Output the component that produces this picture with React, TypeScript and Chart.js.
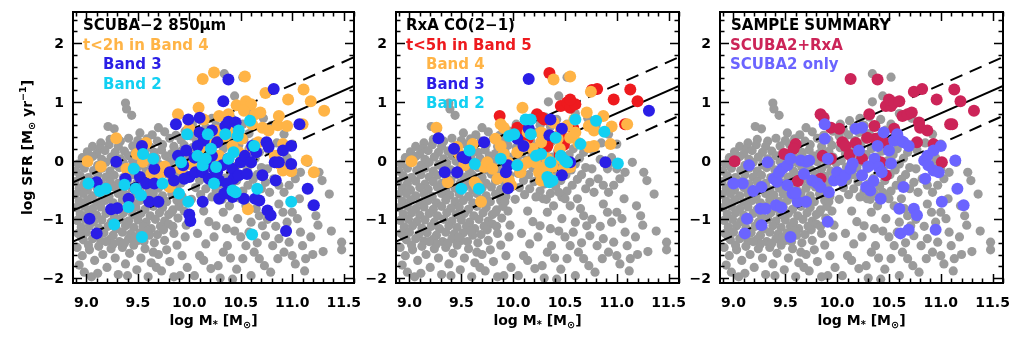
import React, { useEffect, useRef } from "react";
import { Chart, registerables } from "chart.js";
Chart.register(...registerables);

type P = [number, number];

const xTicks = [9.0, 9.5, 10.0, 10.5, 11.0, 11.5];
const yTicks = [-2, -1, 0, 1, 2];
const xRange = [8.87, 11.6];
const yRange = [-2.085, 2.53];

const fitX = [8.87, 11.6];
const fitMain = [-0.85, 1.27];
const fitUpper = [-0.37, 1.76];
const fitLower = [-1.38, 0.76];

const backgroundGalaxies: P[] = [
  [9.38,0.98],[9.39,0.88],[9.44,0.77],[9.27,0.54],[9.52,0.47],[9.64,0.44],[9.76,0.49],[9.87,0.43],[9.96,0.50],[9.70,0.56],[9.21,0.58],
  [9.23,0.36],[9.33,0.33],[9.41,0.38],[9.50,0.34],[9.59,0.37],[9.69,0.33],[9.81,0.38],[9.92,0.35],[9.14,0.30],
  [9.06,0.24],[9.13,0.20],[9.22,0.27],[9.31,0.24],[9.45,0.25],[9.54,0.28],[9.62,0.23],[9.74,0.27],[9.85,0.24],[9.95,0.26],
  [9.01,0.15],[9.10,0.11],[9.18,0.17],[9.28,0.14],[9.37,0.16],[9.47,0.12],[9.57,0.17],[9.66,0.14],[9.73,0.18],[9.83,0.12],[9.92,0.16],
  [8.96,0.05],[9.06,0.07],[9.15,0.02],[9.24,0.06],[9.33,0.03],[9.41,0.08],[9.50,0.02],[9.59,0.06],[9.68,0.04],[9.77,0.08],[9.86,0.03],[9.96,0.06],
  [8.92,-0.06],[9.02,-0.03],[9.11,-0.08],[9.19,-0.03],[9.28,-0.07],[9.36,-0.04],[9.45,-0.01],[9.54,-0.08],[9.62,-0.04],[9.71,-0.07],[9.81,-0.02],[9.90,-0.06],[9.99,-0.04],
  [8.90,-0.18],[8.98,-0.13],[9.07,-0.17],[9.15,-0.13],[9.23,-0.18],[9.32,-0.12],[9.40,-0.16],[9.49,-0.13],[9.58,-0.18],[9.66,-0.12],[9.75,-0.16],[9.85,-0.14],[9.94,-0.18],
  [8.94,-0.26],[9.02,-0.29],[9.11,-0.24],[9.19,-0.28],[9.27,-0.25],[9.36,-0.29],[9.45,-0.24],[9.53,-0.28],[9.61,-0.25],[9.70,-0.29],[9.79,-0.23],[9.88,-0.27],[9.97,-0.25],
  [8.89,-0.36],[8.98,-0.39],[9.06,-0.35],[9.15,-0.40],[9.23,-0.36],[9.31,-0.39],[9.40,-0.34],[9.49,-0.38],[9.57,-0.40],[9.66,-0.35],[9.74,-0.39],[9.83,-0.35],[9.92,-0.38],
  [8.93,-0.47],[9.01,-0.50],[9.10,-0.46],[9.18,-0.49],[9.27,-0.45],[9.35,-0.50],[9.44,-0.47],[9.53,-0.45],[9.61,-0.50],[9.70,-0.47],[9.79,-0.45],[9.88,-0.49],
  [8.89,-0.58],[8.97,-0.56],[9.06,-0.60],[9.14,-0.57],[9.22,-0.61],[9.31,-0.56],[9.39,-0.59],[9.48,-0.57],[9.57,-0.61],[9.65,-0.56],[9.74,-0.60],[9.83,-0.57],[9.93,-0.61],
  [8.93,-0.69],[9.01,-0.67],[9.10,-0.71],[9.18,-0.68],[9.26,-0.72],[9.35,-0.67],[9.44,-0.70],[9.52,-0.68],[9.61,-0.72],[9.69,-0.67],[9.78,-0.70],[9.88,-0.68],
  [8.90,-0.80],[8.98,-0.78],[9.06,-0.82],[9.14,-0.79],[9.23,-0.83],[9.31,-0.78],[9.40,-0.81],[9.48,-0.79],[9.57,-0.83],[9.65,-0.78],[9.74,-0.80],[9.84,-0.84],
  [8.94,-0.91],[9.02,-0.89],[9.10,-0.93],[9.19,-0.90],[9.27,-0.94],[9.36,-0.89],[9.45,-0.92],[9.53,-0.90],[9.62,-0.94],[9.71,-0.89],[9.80,-0.92],
  [8.91,-1.02],[8.99,-1.00],[9.07,-1.04],[9.15,-1.01],[9.24,-1.05],[9.33,-1.00],[9.41,-1.03],[9.50,-1.01],[9.58,-1.05],[9.67,-1.00],[9.76,-1.03],
  [8.95,-1.13],[9.03,-1.11],[9.12,-1.15],[9.21,-1.12],[9.29,-1.16],[9.38,-1.11],[9.46,-1.14],[9.55,-1.12],[9.63,-1.16],[9.72,-1.12],
  [8.92,-1.24],[9.00,-1.22],[9.09,-1.26],[9.17,-1.23],[9.26,-1.27],[9.35,-1.22],[9.43,-1.25],[9.52,-1.23],[9.61,-1.27],
  [8.97,-1.35],[9.06,-1.33],[9.14,-1.37],[9.23,-1.34],[9.32,-1.38],[9.41,-1.33],[9.50,-1.36],
  [10.03,0.62],[10.12,0.68],[10.22,0.72],[10.31,0.74],[10.42,0.70],[10.52,0.62],
  [10.06,0.52],[10.16,0.56],[10.26,0.60],[10.36,0.58],[10.47,0.52],[10.58,0.46],
  [10.02,0.42],[10.11,0.44],[10.21,0.48],[10.31,0.46],[10.41,0.42],[10.53,0.36],[10.63,0.30],
  [10.07,0.32],[10.17,0.34],[10.27,0.36],[10.37,0.32],[10.48,0.26],[10.58,0.20],[10.68,0.14],
  [10.03,0.22],[10.13,0.22],[10.23,0.24],[10.33,0.20],[10.43,0.16],[10.54,0.10],[10.64,0.04],
  [10.08,0.11],[10.18,0.12],[10.28,0.10],[10.38,0.06],[10.49,0.00],[10.60,-0.06],[10.70,-0.12],
  [10.04,0.00],[10.14,0.01],[10.24,-0.02],[10.34,-0.06],[10.45,-0.10],[10.56,-0.16],[10.66,-0.24],
  [10.09,-0.11],[10.19,-0.12],[10.29,-0.14],[10.40,-0.18],[10.51,-0.24],[10.62,-0.32],
  [10.05,-0.22],[10.15,-0.24],[10.25,-0.26],[10.35,-0.30],[10.46,-0.34],[10.57,-0.42],
  [10.10,-0.34],[10.20,-0.36],[10.30,-0.40],[10.41,-0.44],[10.52,-0.52],
  [10.06,-0.46],[10.16,-0.48],[10.26,-0.52],[10.36,-0.56],[10.47,-0.62],
  [10.11,-0.58],[10.22,-0.62],[10.32,-0.66],[10.02,-0.66],
  [8.91,-1.48],[8.96,-1.62],[8.93,-1.78],[8.98,-1.90],[9.03,-1.52],[9.08,-1.70],[9.05,-1.98],[9.12,-1.46],[9.16,-1.60],[9.20,-1.82],
  [9.24,-1.50],[9.28,-1.66],[9.31,-1.94],[9.35,-1.48],[9.38,-1.76],[9.42,-1.58],[9.46,-1.44],[9.49,-1.86],[9.53,-1.66],[9.57,-1.50],
  [9.60,-1.98],[9.63,-1.74],[9.66,-1.40],[9.70,-1.60],[9.73,-1.88],[9.76,-1.36],[9.78,-1.52],[9.81,-1.72],[9.85,-1.24],[9.88,-1.44],
  [9.91,-1.96],[9.93,-1.62],[9.96,-1.30],[9.98,-1.82],[9.80,-1.08],[9.89,-0.98],[9.95,-0.86],[9.97,-1.10],[9.85,-1.98],[9.11,-1.92],
  [9.40,-1.96],[9.68,-1.82],[9.56,-1.38],[9.26,-1.42],[9.69,-1.26],[9.90,-0.78],[9.84,-1.12],
  [10.33,-0.88],[10.26,-1.11],[10.36,-1.16],[10.47,-0.99],[10.55,-0.77],[10.62,-0.65],[10.65,-0.82],[10.68,-0.94],[10.71,-1.11],[10.74,-1.28],
  [10.58,-1.22],[10.55,-1.45],[10.63,-1.56],[10.68,-1.67],[10.73,-1.79],[10.52,-1.67],[10.46,-1.85],[10.42,-2.02],[10.33,-1.56],[10.28,-1.79],
  [10.37,-1.45],[10.81,-1.45],[10.87,-1.33],[10.92,-1.56],[10.97,-1.39],[11.00,-1.62],[11.03,-1.76],[10.86,-1.67],[10.79,-1.90],[10.95,-1.05],
  [10.91,-0.88],[10.87,-0.74],[11.00,-0.88],[11.05,-0.99],[11.08,-1.22],[11.10,-1.45],[11.13,-1.67],[10.87,-0.42],[10.82,-0.31],[10.92,-0.54],
  [10.97,-0.42],[11.03,-0.31],[11.08,-0.20],[11.15,-0.03],[11.26,-0.20],[11.29,-0.34],[11.36,-0.57],[11.19,-0.77],[11.23,-0.94],[11.07,-0.65],
  [11.48,-1.39],[11.48,-1.52],[10.78,-0.54],[10.74,-0.37],[10.70,-0.48],[10.29,-0.65],[10.39,-0.77],[10.50,-0.65],[10.44,-0.54],[11.00,-0.14],
  [10.91,-0.14],[10.95,-0.03],[10.14,-0.86],[10.19,-1.04],[10.08,-1.24],[10.16,-1.42],[10.10,-1.62],[10.21,-1.84],[10.05,-1.96],[10.24,-1.30],
  [10.30,-2.00],[10.14,-1.70],[10.60,-1.96],[10.66,-1.40],[10.84,-1.12],[10.76,-1.00],[10.60,-1.05],[10.50,-1.30],[10.44,-1.20],[10.40,-1.66],
  [10.34,1.48],[10.52,1.42],[10.34,1.00],[10.44,1.10],[10.60,0.80],[10.72,0.72],[10.80,0.60],[10.92,0.45],[10.85,0.30],[11.00,0.28],
  [10.77,0.18],[10.95,0.05],[10.84,0.02],[10.76,-0.14],[11.18,-1.30],[11.25,-1.10],[11.30,-1.55],[11.38,-1.20],[11.20,-1.60],[11.12,-1.88],
  [8.95,-1.30],[9.02,-1.44],[9.19,-1.38],[9.37,-1.41],[9.47,-1.30],[9.59,-1.20],[9.75,-1.18],[9.83,-0.88],[9.92,-0.70],[9.65,-1.56],
];

const scubaBand4: P[] = [
  [9.01,-0.01],[9.14,-0.10],[9.29,0.38],[9.49,0.11],[9.58,0.30],[9.39,-0.14],[9.63,-0.23],[9.68,-0.23],[9.73,-0.20],[9.81,-0.45],
  [9.84,-0.35],[9.92,-0.14],[9.89,0.79],[10.0,0.54],[10.09,0.90],[10.13,1.39],[10.24,1.50],[10.29,0.76],[10.38,0.79],[10.26,0.51],
  [10.46,0.94],[10.54,1.43],[10.55,1.01],[10.60,0.96],[10.53,0.85],[10.64,0.79],[10.69,0.82],[10.61,0.62],[10.71,0.56],[10.74,1.15],
  [10.77,0.51],[10.86,0.60],[10.87,0.76],[10.95,0.59],[10.96,1.04],[10.91,0.28],[10.83,0.08],[10.88,-0.06],[10.91,-0.17],[10.99,-0.18],
  [11.11,1.21],[11.18,1.01],[11.31,0.85],[11.10,0.62],[11.14,0.0],[11.21,-0.20],[10.57,-0.83],[10.35,0.42],[10.42,0.25],[10.51,0.37],
  [10.14,0.70],[10.18,0.37],[10.10,0.20],[10.29,0.08],[10.67,0.31],[10.61,0.20],[10.48,0.14],[10.03,-0.08],[10.22,0.25],[10.38,0.51],
  [9.55,-0.02],[9.76,-0.10],
];
const scubaBand3: P[] = [
  [9.29,-0.02],[9.10,-0.37],[9.03,-0.99],[9.10,-1.24],[9.24,-0.83],[9.30,-0.81],[9.38,-0.31],[9.41,-0.65],[9.48,-0.47],[9.52,-0.28],
  [9.58,-0.39],[9.54,0.25],[9.66,-0.14],[9.66,-0.39],[9.61,-0.70],[9.70,-0.70],[9.85,-0.34],[9.81,-0.20],[9.87,0.62],[9.89,0.08],
  [9.97,0.17],[9.99,0.70],[10.10,0.73],[10.0,-0.28],[9.95,-0.31],[10.06,-0.20],[9.94,-0.08],[10.0,-0.92],[10.01,-1.03],[10.10,0.48],
  [10.14,0.34],[10.08,0.25],[10.22,0.51],[10.27,0.31],[10.35,0.59],[10.22,0.08],[10.16,-0.03],[10.13,-0.20],[10.19,-0.31],[10.27,-0.20],
  [10.29,-0.34],[10.32,-0.08],[10.38,0.03],[10.42,-0.14],[10.43,-0.31],[10.37,-0.39],[10.50,-0.03],[10.48,-0.25],[10.56,-0.23],[10.54,0.08],
  [10.60,-0.03],[10.61,0.25],[10.65,0.14],[10.29,-0.65],[10.42,-0.62],[10.34,-0.56],[10.13,-0.70],[10.53,-0.65],[10.64,-0.65],[10.68,-0.68],
  [10.71,-0.25],[10.76,-0.85],[10.79,-0.93],[10.84,-0.34],[10.83,-0.03],[10.87,-0.03],[10.75,0.31],[10.77,0.23],[10.91,0.17],[10.99,0.25],
  [10.99,-0.06],[10.94,-1.20],[11.07,0.62],[11.15,-0.48],[11.21,-0.76],[10.82,1.22],[10.38,1.38],[10.33,1.01],[10.38,0.66],[10.45,0.65],
  [10.24,-0.14],[10.05,0.05],
];
const scubaBand2: P[] = [
  [9.02,-0.39],[9.13,-0.52],[9.19,-0.48],[9.27,-1.09],[9.41,-0.79],[9.54,-1.30],[9.46,-0.14],[9.55,0.11],[9.65,0.03],[9.48,-0.48],
  [9.53,-0.59],[9.74,-0.39],[9.90,-0.56],[9.98,0.45],[10.08,0.08],[9.99,-0.70],[10.18,0.45],[10.21,0.20],[10.13,-0.08],[10.26,-0.11],
  [10.24,-0.39],[10.35,0.45],[10.43,0.14],[10.48,0.51],[10.47,0.42],[10.59,0.68],[10.63,0.25],[10.38,0.03],[10.42,-0.51],[10.45,-0.54],
  [10.66,-0.48],[10.61,-1.26],[10.99,-0.70],[9.92,-0.03],[10.16,0.03],[9.37,-0.41],
];

const rxaBand5: P[] = [
  [10.35,1.49],[9.87,0.76],[10.04,0.56],[10.09,0.51],[10.14,0.37],[10.23,0.79],[10.28,0.73],[10.30,0.70],[10.46,0.93],[10.52,0.99],
  [10.55,0.90],[10.60,0.96],[10.55,1.04],[10.76,1.20],[10.81,1.22],[10.97,1.04],[11.13,1.21],[11.20,1.01],[11.08,0.62],[10.39,0.39],
  [10.46,0.45],[10.49,0.27],[10.33,0.25],[10.45,0.10],[10.58,0.55],
];
const rxaBand4: P[] = [
  [9.02,-0.01],[9.26,0.56],[9.37,-0.37],[9.48,0.11],[9.46,0.23],[9.53,-0.08],[9.61,0.28],[9.63,-0.37],[9.65,-0.42],[9.69,-0.70],
  [9.72,-0.11],[9.75,-0.03],[9.80,-0.14],[9.83,0.37],[9.88,0.25],[9.88,0.62],[9.91,0.56],[9.85,-0.31],[9.91,0.11],[9.95,-0.03],
  [9.96,-0.34],[9.98,-0.42],[10.07,-0.20],[10.09,0.90],[10.09,-0.08],[10.14,-0.03],[10.21,-0.03],[10.25,-0.20],[10.30,-0.11],[10.33,0.03],
  [10.39,1.38],[10.55,1.43],[10.39,0.65],[10.46,0.54],[10.52,0.59],[10.59,0.70],[10.55,0.39],[10.60,0.48],[10.71,0.82],[10.73,0.59],
  [10.78,0.51],[10.75,1.17],[10.87,0.76],[10.95,0.58],[10.94,0.28],[10.78,0.25],[10.73,0.23],[11.10,0.62],[10.04,0.14],[10.11,0.25],
  [10.19,0.20],[10.27,0.31],[10.14,0.48],[10.27,0.48],[10.43,0.37],[10.46,0.03],[10.38,-0.11],[10.49,-0.14],[10.55,-0.11],[10.27,-0.34],
  [10.36,-0.31],[10.45,0.20],[10.63,0.30],
];
const rxaBand3: P[] = [
  [10.15,1.39],[9.28,0.38],[9.43,0.20],[9.51,0.06],[9.54,0.04],[9.34,-0.20],[9.46,-0.20],[9.72,0.31],[9.95,-0.08],[9.93,-0.20],
  [9.95,-0.47],[10.04,0.37],[10.10,0.25],[10.15,0.54],[10.36,0.70],[10.35,0.43],[10.47,0.54],[10.47,-0.25],[10.55,-0.03],[10.89,-0.03],
  [11.31,0.85],
];
const rxaBand2: P[] = [
  [9.50,-0.48],[9.58,0.17],[9.63,-0.06],[9.67,-0.48],[9.88,0.03],[9.96,0.42],[10.01,0.45],[10.04,-0.08],[10.12,0.70],[10.17,0.70],
  [10.17,0.45],[10.22,0.08],[10.27,0.11],[10.33,-0.28],[10.35,-0.37],[10.38,-0.34],[10.36,-0.03],[10.41,0.39],[10.46,0.08],[10.50,0.0],
  [10.52,-0.03],[10.60,0.70],[10.65,0.28],[10.80,0.68],[10.88,0.49],[11.01,-0.05],
];

const scubaPlusRxa: P[] = [
  [9.01,-0.01],[9.49,0.11],[9.60,0.28],[9.62,-0.35],[9.84,0.79],[9.87,0.73],[9.94,0.56],[10.02,0.54],[9.86,0.08],[9.94,0.03],
  [9.84,-0.31],[10.05,0.31],[10.08,0.25],[10.13,1.39],[10.39,1.38],[10.31,0.79],[10.36,0.59],[10.37,0.37],[10.24,0.03],[10.47,0.93],
  [10.52,0.93],[10.50,1.04],[10.55,0.99],[10.60,1.01],[10.63,0.76],[10.68,0.79],[10.72,0.82],[10.74,1.17],[10.82,1.22],[10.79,0.65],
  [10.80,0.56],[10.87,0.51],[10.77,0.31],[10.93,0.28],[10.96,1.04],[11.13,1.21],[11.19,1.01],[11.32,0.85],[11.09,0.62],[11.11,0.62],
  [11.01,-0.03],[10.47,-0.25],[10.42,-0.03],[10.29,0.39],[10.55,0.54],[10.45,0.31],[9.58,0.20],[10.12,0.10],[10.18,0.30],
];
const scubaOnly: P[] = [
  [9.15,-0.08],[9.09,-0.39],[9.00,-0.39],[9.19,-0.52],[9.27,-0.45],[9.13,-0.99],[9.11,-1.24],[9.26,-0.82],[9.31,-0.82],[9.27,-1.10],
  [9.33,-0.03],[9.39,-0.31],[9.42,-0.36],[9.41,-0.76],[9.46,-0.80],[9.47,-0.14],[9.52,-0.08],[9.55,0.03],[9.52,-0.42],[9.57,-0.56],
  [9.55,-1.30],[9.62,-0.70],[9.70,-0.70],[9.65,0.0],[9.70,-0.02],[9.68,-0.23],[9.73,0.0],[9.76,-0.34],[9.81,-0.39],[9.88,0.62],
  [9.88,0.37],[9.91,0.03],[9.97,-0.34],[10.00,-0.20],[9.92,-0.54],[9.91,-1.04],[10.04,-0.34],[10.08,-0.25],[10.13,-0.14],[10.18,0.54],
  [10.24,0.56],[10.21,0.17],[10.24,-0.25],[10.28,-0.45],[10.32,-0.51],[10.36,0.03],[10.39,0.25],[10.40,-0.11],[10.43,-0.20],[10.45,0.48],
  [10.42,-0.65],[10.50,0.17],[10.55,0.34],[10.58,0.45],[10.61,0.34],[10.64,0.31],[10.69,0.25],[10.60,-0.82],[10.61,-1.24],[10.69,-1.18],
  [10.64,-0.45],[10.74,-0.82],[10.77,-0.93],[10.85,-0.31],[10.84,0.0],[10.87,0.08],[10.88,-0.08],[10.93,-0.17],[10.98,-0.20],[10.93,0.17],
  [11.00,0.25],[10.95,-1.18],[11.01,-0.70],[11.14,0.0],[11.16,-0.48],[11.22,-0.76],[9.44,-0.20],[9.60,-0.55],[9.84,-0.45],[10.15,-0.05],
  [10.30,-0.10],[10.52,-0.05],[10.35,-0.35],
];

const GRAY = "#9b9b9b";
const ORANGE = "#ffb446";
const BLUE = "#2a1ee6";
const CYAN = "#12d0f2";
const RED = "#ee1a1e";
const CRIMSON = "#cc2458";
const PERI = "#6b64ff";
const FONT = "'DejaVu Sans'";

type Seg = [string, number, number];
const xTitle: Seg[] = [["log M", 1, 0], ["*", 0.7, 3], [" [M", 1, 0], ["\u2299", 0.7, 3], ["]", 1, 0]];
const yTitle: Seg[] = [["log SFR [M", 1, 0], ["\u2299", 0.7, 3], [" yr", 1, 0], ["\u22121", 0.68, -6], ["]", 1, 0]];

function drawRich(ctx: CanvasRenderingContext2D, segs: Seg[], cx: number, y: number, base: number) {
  const widths: number[] = [];
  let total = 0;
  for (const [t, s] of segs) {
    ctx.font = `bold ${base * s}px ${FONT}`;
    const w = ctx.measureText(t).width;
    widths.push(w);
    total += w;
  }
  let x = cx - total / 2;
  ctx.textAlign = "left";
  ctx.textBaseline = "alphabetic";
  segs.forEach(([t, s, dy], i) => {
    ctx.font = `bold ${base * s}px ${FONT}`;
    ctx.fillText(t, x, y + dy);
    x += widths[i];
  });
}

const fmtX = (v: number) => v.toFixed(1);
const fmtY = (v: number) => (v < 0 ? "\u2212" + Math.abs(v) : String(v));

type LegendLine = { text: string; color: string; indent: number };
type Layer = { pts: P[]; color: string; radius: number };

function Panel(props: { left: number; width: number; areaLeft: number; areaRight: number; layers: Layer[]; legend: LegendLine[]; showYTitle: boolean }) {
  const ref = useRef<HTMLCanvasElement>(null);
  useEffect(() => {
    const { left, width, areaLeft, areaRight, layers, legend, showYTitle } = props;
    const decor = {
      id: "decor",
      afterDraw(chart: any) {
        const ctx: CanvasRenderingContext2D = chart.ctx;
        const a = chart.chartArea;
        const xs = chart.scales.x;
        const ys = chart.scales.y;
        ctx.save();
        ctx.strokeStyle = "#000";
        ctx.lineWidth = 1.5;
        ctx.beginPath();
        for (let i = 89; i <= 116; i++) {
          const v = i / 10;
          const major = i % 5 === 0;
          const L = major ? 9 : 4.5;
          const p = Math.round(xs.getPixelForValue(v)) + 0.5;
          ctx.moveTo(p, a.bottom); ctx.lineTo(p, a.bottom - L);
          ctx.moveTo(p, a.top); ctx.lineTo(p, a.top + L);
        }
        for (let i = -10; i <= 12; i++) {
          const v = i / 5;
          const major = i % 5 === 0;
          const L = major ? 9 : 4.5;
          const p = Math.round(ys.getPixelForValue(v)) + 0.5;
          ctx.moveTo(a.left, p); ctx.lineTo(a.left + L, p);
          ctx.moveTo(a.right, p); ctx.lineTo(a.right - L, p);
        }
        ctx.stroke();
        ctx.lineWidth = 2;
        ctx.strokeRect(a.left, a.top, a.right - a.left, a.bottom - a.top);

        // tick labels
        ctx.fillStyle = "#000";
        ctx.font = `bold 14px ${FONT}`;
        ctx.textBaseline = "alphabetic";
        ctx.textAlign = "center";
        for (const v of xTicks) ctx.fillText(fmtX(v), xs.getPixelForValue(v), 307);
        ctx.textAlign = "right";
        for (const v of yTicks) ctx.fillText(fmtY(v), a.left - 9, ys.getPixelForValue(v) + 5);

        ctx.font = `bold 15px ${FONT}`;
        ctx.textAlign = "left";
        ctx.textBaseline = "middle";
        legend.forEach((ln, i) => {
          ctx.fillStyle = ln.color;
          ctx.fillText(ln.text, a.left + 10 + ln.indent, 26.5 + i * 19.5);
        });

        ctx.fillStyle = "#000";
        drawRich(ctx, xTitle, (a.left + a.right) / 2, 325, 14);
        if (showYTitle) {
          ctx.translate(32, (a.top + a.bottom) / 2);
          ctx.rotate(-Math.PI / 2);
          drawRich(ctx, yTitle, 0, 0, 14);
        }
        ctx.restore();
      },
    };

    const lineDs = (ys: number[], dash: number[]) => ({
      type: "line" as const,
      data: fitX.map((x, i) => ({ x, y: ys[i] })),
      showLine: true,
      borderColor: "#000",
      borderWidth: 2,
      borderDash: dash,
      pointRadius: 0,
      fill: false,
      order: 50,
    });

    const datasets: any[] = [
      {
        data: backgroundGalaxies.map(([x, y]) => ({ x, y })),
        pointRadius: 4.6,
        pointBackgroundColor: GRAY,
        pointBorderWidth: 0,
        order: 100,
      },
      lineDs(fitMain, []),
      lineDs(fitUpper, [13, 8]),
      lineDs(fitLower, [13, 8]),
      ...layers.map((l, i) => ({
        data: l.pts.map(([x, y]) => ({ x, y })),
        pointRadius: l.radius,
        pointBackgroundColor: l.color,
        pointBorderWidth: 0,
        order: 20 - i,
      })),
    ];

    const chart = new Chart(ref.current as HTMLCanvasElement, {
      type: "scatter",
      data: { datasets },
      options: {
        responsive: false,
        animation: false,
        devicePixelRatio: 1,
        events: [],
        layout: { padding: { left: 0, right: width - areaRight + left, top: 12, bottom: 0 } },
        plugins: { legend: { display: false }, tooltip: { enabled: false } },
        scales: {
          x: {
            type: "linear",
            min: xRange[0],
            max: xRange[1],
            grid: { display: false, drawTicks: false },
            border: { display: false },
            afterBuildTicks: (s: any) => { s.ticks = xTicks.map((v) => ({ value: v })); },
            afterFit: (s: any) => { s.height = 57; },
            ticks: { display: false },
          },
          y: {
            type: "linear",
            min: yRange[0],
            max: yRange[1],
            grid: { display: false, drawTicks: false },
            border: { display: false },
            afterBuildTicks: (s: any) => { s.ticks = yTicks.map((v) => ({ value: v })); },
            afterFit: (s: any) => { s.width = areaLeft - left; },
            ticks: { display: false },
          },
        },
      },
      plugins: [decor],
    });
    return () => chart.destroy();
  }, []);
  return <canvas ref={ref} width={props.width} height={340} style={{ position: "absolute", left: props.left, top: 0 }} />;
}

const legend1: LegendLine[] = [
  { text: "SCUBA\u22122 850\u03bcm", color: "#000", indent: 0 },
  { text: "t<2h in Band 4", color: ORANGE, indent: 0 },
  { text: "Band 3", color: BLUE, indent: 20 },
  { text: "Band 2", color: CYAN, indent: 20 },
];
const legend2: LegendLine[] = [
  { text: "RxA CO(2\u22121)", color: "#000", indent: 0 },
  { text: "t<5h in Band 5", color: RED, indent: 0 },
  { text: "Band 4", color: ORANGE, indent: 20 },
  { text: "Band 3", color: BLUE, indent: 20 },
  { text: "Band 2", color: CYAN, indent: 20 },
];
const legend3: LegendLine[] = [
  { text: "SAMPLE SUMMARY", color: "#000", indent: 1 },
  { text: "SCUBA2+RxA", color: CRIMSON, indent: 0 },
  { text: "SCUBA2 only", color: PERI, indent: 0 },
];

export default function App() {
  const R = 6;
  return (
    <div style={{ position: "absolute", left: 0, top: 0, width: 1024, height: 340, background: "#fff", overflow: "hidden" }}>
      <Panel left={0} width={365} areaLeft={73} areaRight={354} showYTitle legend={legend1}
        layers={[{ pts: scubaBand4, color: ORANGE, radius: R }, { pts: scubaBand3, color: BLUE, radius: R }, { pts: scubaBand2, color: CYAN, radius: R }]} />
      <Panel left={365} width={325} areaLeft={396} areaRight={679} showYTitle={false} legend={legend2}
        layers={[{ pts: rxaBand5, color: RED, radius: R }, { pts: rxaBand4, color: ORANGE, radius: R }, { pts: rxaBand3, color: BLUE, radius: R }, { pts: rxaBand2, color: CYAN, radius: R }]} />
      <Panel left={690} width={334} areaLeft={720} areaRight={1003} showYTitle={false} legend={legend3}
        layers={[{ pts: scubaPlusRxa, color: CRIMSON, radius: R }, { pts: scubaOnly, color: PERI, radius: R }]} />
    </div>
  );
}
